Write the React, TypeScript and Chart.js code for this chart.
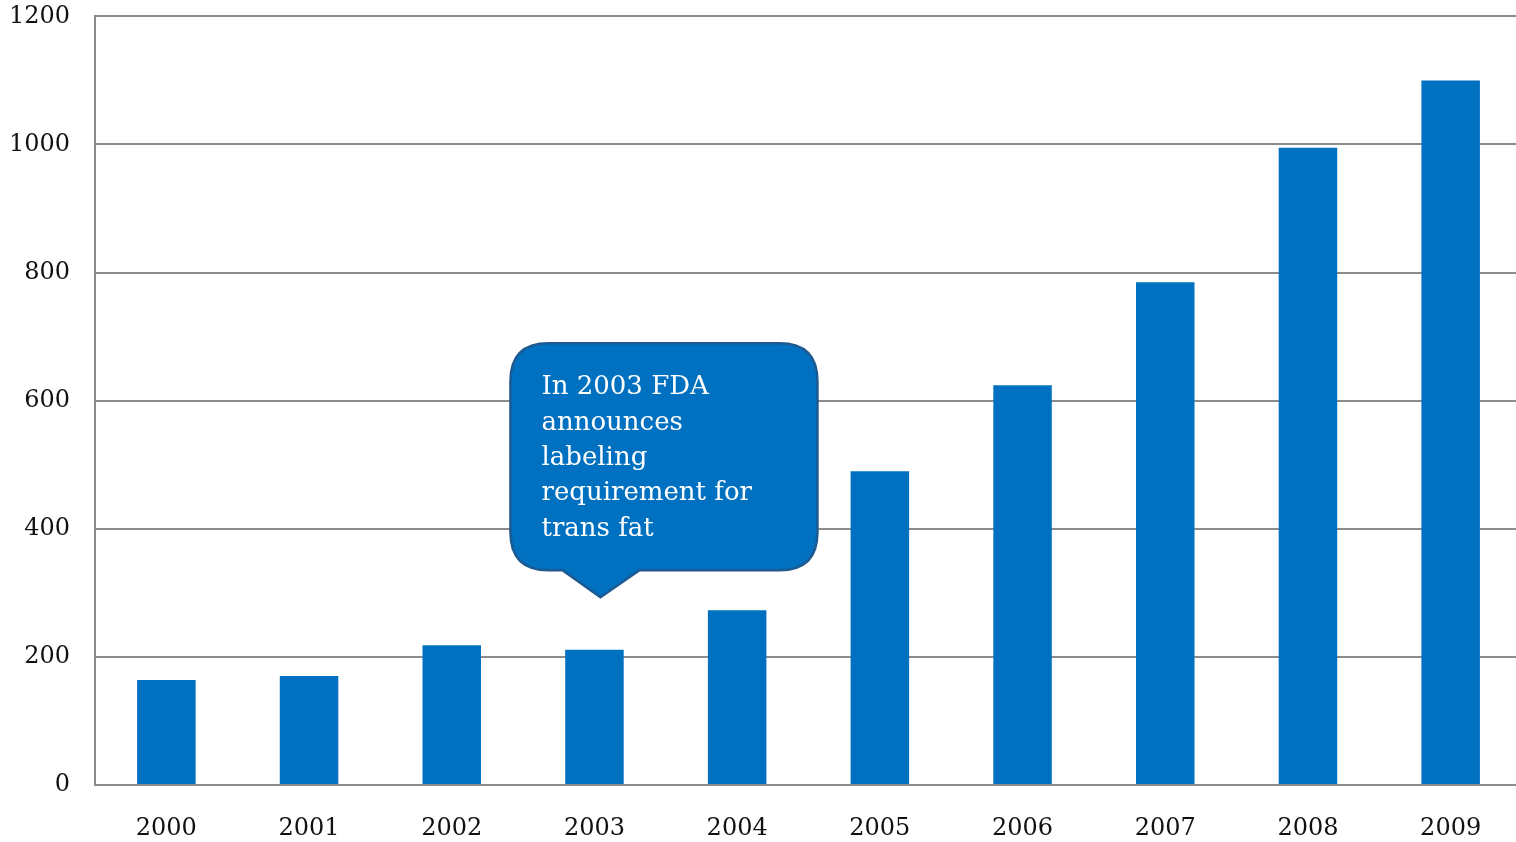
import React, { useEffect, useRef } from "react";
import { Chart, registerables } from "chart.js";

Chart.register(...registerables);

const years = ["2000", "2001", "2002", "2003", "2004", "2005", "2006", "2007", "2008", "2009"];
const counts = [164, 170, 218, 211, 273, 490, 624, 785, 995, 1100];
const yTicks = [0, 200, 400, 600, 800, 1000, 1200];
const calloutLines = ["In 2003 FDA", "announces", "labeling", "requirement for", "trans fat"];
const calloutIndex = 3;
const calloutTipValue = 293;

const FONT = "'DejaVu Serif', 'Liberation Serif', serif";
const BLUE = "#0070C0";
const GRID = "#8c8c8c";

const calloutPlugin = {
  id: "callout",
  afterDatasetsDraw(chart: any) {
    const { ctx, scales } = chart;
    const tipX = scales.x.getPixelForValue(calloutIndex) + 6;
    const tipY = scales.y.getPixelForValue(calloutTipValue);
    const left = tipX - 90;
    const right = tipX + 217;
    const bottom = tipY - 27;
    const top = bottom - 227;
    const r = 38;
    ctx.save();
    ctx.beginPath();
    ctx.moveTo(left + r, top);
    ctx.lineTo(right - r, top);
    ctx.quadraticCurveTo(right, top, right, top + r);
    ctx.lineTo(right, bottom - r);
    ctx.quadraticCurveTo(right, bottom, right - r, bottom);
    ctx.lineTo(tipX + 39, bottom);
    ctx.lineTo(tipX, tipY);
    ctx.lineTo(tipX - 38, bottom);
    ctx.lineTo(left + r, bottom);
    ctx.quadraticCurveTo(left, bottom, left, bottom - r);
    ctx.lineTo(left, top + r);
    ctx.quadraticCurveTo(left, top, left + r, top);
    ctx.closePath();
    ctx.fillStyle = BLUE;
    ctx.fill();
    ctx.lineWidth = 2.5;
    ctx.strokeStyle = "#1d5a92";
    ctx.stroke();
    ctx.fillStyle = "#ffffff";
    ctx.font = `26px ${FONT}`;
    ctx.textAlign = "left";
    ctx.textBaseline = "alphabetic";
    calloutLines.forEach((line, i) => {
      ctx.fillText(line, left + 31, top + 51 + i * 35.3);
    });
    ctx.restore();
  },
};

export default function App() {
  const ref = useRef<HTMLCanvasElement>(null);
  useEffect(() => {
    if (!ref.current) return;
    const chart = new Chart(ref.current, {
      type: "bar",
      data: {
        labels: years,
        datasets: [
          {
            data: counts,
            backgroundColor: BLUE,
            borderWidth: 0,
            barPercentage: 0.41,
            categoryPercentage: 1,
          },
        ],
      },
      options: {
        animation: false,
        responsive: true,
        maintainAspectRatio: false,
        layout: { padding: { top: 0, right: 0, left: 0, bottom: 0 } },
        plugins: { legend: { display: false }, tooltip: { enabled: false } },
        scales: {
          x: {
            grid: { display: false, drawTicks: false },
            border: { display: true, color: GRID, width: 2 },
            ticks: { color: "#111", font: { family: FONT, size: 24 }, padding: 29 },
            afterFit: (s: any) => {
              s.height = 57;
            },
          },
          y: {
            min: 0,
            max: 1200,
            afterBuildTicks: (s: any) => {
              s.ticks = yTicks.map((v) => ({ value: v }));
            },
            grid: { color: GRID, lineWidth: 2, drawTicks: false },
            border: { display: true, color: GRID, width: 2 },
            ticks: {
              color: "#111",
              font: { family: FONT, size: 24 },
              padding: 25,
              callback: (v: any) => String(v),
            },
            afterFit: (s: any) => {
              s.width = 95;
            },
          },
        },
      },
      plugins: [calloutPlugin],
    });
    return () => chart.destroy();
  }, []);
  return (
    <div style={{ position: "fixed", left: 0, top: 0, width: 1516, height: 842, overflow: "hidden", background: "#fff" }}>
      <div style={{ position: "absolute", left: 0, top: -23, width: 1522, height: 865 }}>
        <canvas ref={ref} />
      </div>
    </div>
  );
}
